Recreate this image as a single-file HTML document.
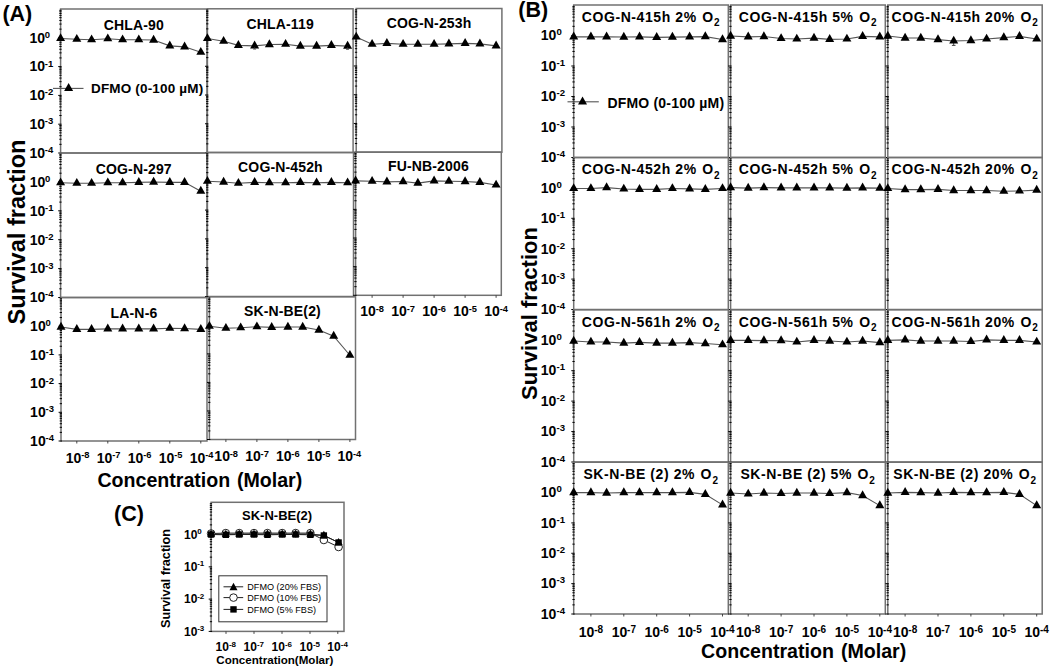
<!DOCTYPE html>
<html><head><meta charset="utf-8"><style>
html,body{margin:0;padding:0;background:#fff;}
body{width:1050px;height:671px;overflow:hidden;}
svg{display:block;}
text{font-family:"Liberation Sans", sans-serif;fill:#000;}
</style></head><body>
<svg width="1050" height="671" viewBox="0 0 1050 671">
<rect width="1050" height="671" fill="#fff"/>
<text x="2.4" y="21" font-size="21.5" font-weight="bold" text-anchor="start">(A)</text>
<rect x="60.6" y="9" width="146.4" height="144" fill="none" stroke="#717171" stroke-width="1.5"/>
<path d="M58.2 153H61.6M59.3 144.33H61.6M59.3 139.26H61.6M59.3 135.66H61.6M59.3 132.87H61.6M59.3 130.59H61.6M59.3 128.66H61.6M59.3 126.99H61.6M59.3 125.52H61.6M58.2 124.2H61.6M59.3 115.53H61.6M59.3 110.46H61.6M59.3 106.86H61.6M59.3 104.07H61.6M59.3 101.79H61.6M59.3 99.86H61.6M59.3 98.19H61.6M59.3 96.72H61.6M58.2 95.4H61.6M59.3 86.73H61.6M59.3 81.66H61.6M59.3 78.06H61.6M59.3 75.27H61.6M59.3 72.99H61.6M59.3 71.06H61.6M59.3 69.39H61.6M59.3 67.92H61.6M58.2 66.6H61.6M59.3 57.93H61.6M59.3 52.86H61.6M59.3 49.26H61.6M59.3 46.47H61.6M59.3 44.19H61.6M59.3 42.26H61.6M59.3 40.59H61.6M59.3 39.12H61.6M58.2 37.8H61.6M59.3 29.13H61.6M59.3 24.06H61.6M59.3 20.46H61.6M59.3 17.67H61.6M59.3 15.39H61.6M59.3 13.46H61.6M59.3 11.79H61.6M59.3 10.32H61.6" stroke="#000" stroke-width="1" fill="none"/>
<text x="133.8" y="29.5" font-size="14" font-weight="bold" text-anchor="middle" letter-spacing="0.15">CHLA-90</text>
<polyline points="60.6,38.45 76.8,39.25 91.59,39.75 107.8,38.75 122.59,39.75 138.8,39.75 153.59,40.05 169.8,45.85 184.59,46.85 200.8,52.25" fill="none" stroke="#555" stroke-width="1.1"/>
<g fill="#000"><path d="M60.6 33.15L65.1 41.05L56.1 41.05Z"/><path d="M76.8 33.95L81.3 41.85L72.3 41.85Z"/><path d="M91.59 34.45L96.09 42.35L87.09 42.35Z"/><path d="M107.8 33.45L112.3 41.35L103.3 41.35Z"/><path d="M122.59 34.45L127.09 42.35L118.09 42.35Z"/><path d="M138.8 34.45L143.3 42.35L134.3 42.35Z"/><path d="M153.59 34.75L158.09 42.65L149.09 42.65Z"/><path d="M169.8 40.55L174.3 48.45L165.3 48.45Z"/><path d="M184.59 41.55L189.09 49.45L180.09 49.45Z"/><path d="M200.8 46.95L205.3 54.85L196.3 54.85Z"/></g>
<rect x="207.4" y="8.8" width="145.7" height="143.7" fill="none" stroke="#717171" stroke-width="1.5"/>
<path d="M205 152.5H208.4M206.1 143.85H208.4M206.1 138.79H208.4M206.1 135.2H208.4M206.1 132.41H208.4M206.1 130.14H208.4M206.1 128.21H208.4M206.1 126.55H208.4M206.1 125.08H208.4M205 123.76H208.4M206.1 115.11H208.4M206.1 110.05H208.4M206.1 106.46H208.4M206.1 103.67H208.4M206.1 101.4H208.4M206.1 99.47H208.4M206.1 97.81H208.4M206.1 96.34H208.4M205 95.02H208.4M206.1 86.37H208.4M206.1 81.31H208.4M206.1 77.72H208.4M206.1 74.93H208.4M206.1 72.66H208.4M206.1 70.73H208.4M206.1 69.07H208.4M206.1 67.6H208.4M205 66.28H208.4M206.1 57.63H208.4M206.1 52.57H208.4M206.1 48.98H208.4M206.1 46.19H208.4M206.1 43.92H208.4M206.1 41.99H208.4M206.1 40.33H208.4M206.1 38.86H208.4M205 37.54H208.4M206.1 28.89H208.4M206.1 23.83H208.4M206.1 20.24H208.4M206.1 17.45H208.4M206.1 15.18H208.4M206.1 13.25H208.4M206.1 11.59H208.4M206.1 10.12H208.4" stroke="#000" stroke-width="1" fill="none"/>
<text x="280.25" y="28.7" font-size="14" font-weight="bold" text-anchor="middle" letter-spacing="0.15">CHLA-119</text>
<polyline points="207.4,38.45 223.6,41.25 238.39,45.35 254.6,45.85 269.39,44.55 285.6,44.25 300.39,46.15 316.6,46.15 331.39,45.35 347.6,46.15" fill="none" stroke="#555" stroke-width="1.1"/>
<g fill="#000"><path d="M207.4 33.15L211.9 41.05L202.9 41.05Z"/><path d="M223.6 35.95L228.1 43.85L219.1 43.85Z"/><path d="M238.39 40.05L242.89 47.95L233.89 47.95Z"/><path d="M254.6 40.55L259.1 48.45L250.1 48.45Z"/><path d="M269.39 39.25L273.89 47.15L264.89 47.15Z"/><path d="M285.6 38.95L290.1 46.85L281.1 46.85Z"/><path d="M300.39 40.85L304.89 48.75L295.89 48.75Z"/><path d="M316.6 40.85L321.1 48.75L312.1 48.75Z"/><path d="M331.39 40.05L335.89 47.95L326.89 47.95Z"/><path d="M347.6 40.85L352.1 48.75L343.1 48.75Z"/></g>
<rect x="356.2" y="8.5" width="145.7" height="143.7" fill="none" stroke="#717171" stroke-width="1.5"/>
<path d="M353.8 152.2H357.2M354.9 143.55H357.2M354.9 138.49H357.2M354.9 134.9H357.2M354.9 132.11H357.2M354.9 129.84H357.2M354.9 127.91H357.2M354.9 126.25H357.2M354.9 124.78H357.2M353.8 123.46H357.2M354.9 114.81H357.2M354.9 109.75H357.2M354.9 106.16H357.2M354.9 103.37H357.2M354.9 101.1H357.2M354.9 99.17H357.2M354.9 97.51H357.2M354.9 96.04H357.2M353.8 94.72H357.2M354.9 86.07H357.2M354.9 81.01H357.2M354.9 77.42H357.2M354.9 74.63H357.2M354.9 72.36H357.2M354.9 70.43H357.2M354.9 68.77H357.2M354.9 67.3H357.2M353.8 65.98H357.2M354.9 57.33H357.2M354.9 52.27H357.2M354.9 48.68H357.2M354.9 45.89H357.2M354.9 43.62H357.2M354.9 41.69H357.2M354.9 40.03H357.2M354.9 38.56H357.2M353.8 37.24H357.2M354.9 28.59H357.2M354.9 23.53H357.2M354.9 19.94H357.2M354.9 17.15H357.2M354.9 14.88H357.2M354.9 12.95H357.2M354.9 11.29H357.2M354.9 9.82H357.2" stroke="#000" stroke-width="1" fill="none"/>
<text x="429.05" y="28.2" font-size="14" font-weight="bold" text-anchor="middle" letter-spacing="0.15">COG-N-253h</text>
<polyline points="356.2,36.95 372.1,44.25 386.89,43.35 403.1,44.25 417.89,44.25 434.1,44.25 448.89,43.85 465.1,43.35 479.89,43.85 496.1,45.85" fill="none" stroke="#555" stroke-width="1.1"/>
<g fill="#000"><path d="M356.2 31.65L360.7 39.55L351.7 39.55Z"/><path d="M372.1 38.95L376.6 46.85L367.6 46.85Z"/><path d="M386.89 38.05L391.39 45.95L382.39 45.95Z"/><path d="M403.1 38.95L407.6 46.85L398.6 46.85Z"/><path d="M417.89 38.95L422.39 46.85L413.39 46.85Z"/><path d="M434.1 38.95L438.6 46.85L429.6 46.85Z"/><path d="M448.89 38.55L453.39 46.45L444.39 46.45Z"/><path d="M465.1 38.05L469.6 45.95L460.6 45.95Z"/><path d="M479.89 38.55L484.39 46.45L475.39 46.45Z"/><path d="M496.1 40.55L500.6 48.45L491.6 48.45Z"/></g>
<rect x="60.6" y="153" width="146.4" height="144.5" fill="none" stroke="#717171" stroke-width="1.5"/>
<path d="M58.2 297.5H61.6M59.3 288.8H61.6M59.3 283.71H61.6M59.3 280.1H61.6M59.3 277.3H61.6M59.3 275.01H61.6M59.3 273.08H61.6M59.3 271.4H61.6M59.3 269.92H61.6M58.2 268.6H61.6M59.3 259.9H61.6M59.3 254.81H61.6M59.3 251.2H61.6M59.3 248.4H61.6M59.3 246.11H61.6M59.3 244.18H61.6M59.3 242.5H61.6M59.3 241.02H61.6M58.2 239.7H61.6M59.3 231H61.6M59.3 225.91H61.6M59.3 222.3H61.6M59.3 219.5H61.6M59.3 217.21H61.6M59.3 215.28H61.6M59.3 213.6H61.6M59.3 212.12H61.6M58.2 210.8H61.6M59.3 202.1H61.6M59.3 197.01H61.6M59.3 193.4H61.6M59.3 190.6H61.6M59.3 188.31H61.6M59.3 186.38H61.6M59.3 184.7H61.6M59.3 183.22H61.6M58.2 181.9H61.6M59.3 173.2H61.6M59.3 168.11H61.6M59.3 164.5H61.6M59.3 161.7H61.6M59.3 159.41H61.6M59.3 157.48H61.6M59.3 155.8H61.6M59.3 154.32H61.6" stroke="#000" stroke-width="1" fill="none"/>
<text x="133.8" y="173.9" font-size="14" font-weight="bold" text-anchor="middle" letter-spacing="0.15">COG-N-297</text>
<polyline points="60.6,182.75 76.8,183.25 91.59,183.25 107.8,182.75 122.59,182.75 138.8,182.35 153.59,182.05 169.8,182.35 184.59,182.35 200.8,191.15" fill="none" stroke="#555" stroke-width="1.1"/>
<g fill="#000"><path d="M60.6 177.45L65.1 185.35L56.1 185.35Z"/><path d="M76.8 177.95L81.3 185.85L72.3 185.85Z"/><path d="M91.59 177.95L96.09 185.85L87.09 185.85Z"/><path d="M107.8 177.45L112.3 185.35L103.3 185.35Z"/><path d="M122.59 177.45L127.09 185.35L118.09 185.35Z"/><path d="M138.8 177.05L143.3 184.95L134.3 184.95Z"/><path d="M153.59 176.75L158.09 184.65L149.09 184.65Z"/><path d="M169.8 177.05L174.3 184.95L165.3 184.95Z"/><path d="M184.59 177.05L189.09 184.95L180.09 184.95Z"/><path d="M200.8 185.85L205.3 193.75L196.3 193.75Z"/></g>
<rect x="207.4" y="152.5" width="146.1" height="144" fill="none" stroke="#717171" stroke-width="1.5"/>
<path d="M205 296.5H208.4M206.1 287.83H208.4M206.1 282.76H208.4M206.1 279.16H208.4M206.1 276.37H208.4M206.1 274.09H208.4M206.1 272.16H208.4M206.1 270.49H208.4M206.1 269.02H208.4M205 267.7H208.4M206.1 259.03H208.4M206.1 253.96H208.4M206.1 250.36H208.4M206.1 247.57H208.4M206.1 245.29H208.4M206.1 243.36H208.4M206.1 241.69H208.4M206.1 240.22H208.4M205 238.9H208.4M206.1 230.23H208.4M206.1 225.16H208.4M206.1 221.56H208.4M206.1 218.77H208.4M206.1 216.49H208.4M206.1 214.56H208.4M206.1 212.89H208.4M206.1 211.42H208.4M205 210.1H208.4M206.1 201.43H208.4M206.1 196.36H208.4M206.1 192.76H208.4M206.1 189.97H208.4M206.1 187.69H208.4M206.1 185.76H208.4M206.1 184.09H208.4M206.1 182.62H208.4M205 181.3H208.4M206.1 172.63H208.4M206.1 167.56H208.4M206.1 163.96H208.4M206.1 161.17H208.4M206.1 158.89H208.4M206.1 156.96H208.4M206.1 155.29H208.4M206.1 153.82H208.4" stroke="#000" stroke-width="1" fill="none"/>
<text x="280.45" y="171.7" font-size="14" font-weight="bold" text-anchor="middle" letter-spacing="0.15">COG-N-452h</text>
<polyline points="207.4,181.25 223.6,182.05 238.39,183.25 254.6,182.35 269.39,182.75 285.6,182.75 300.39,182.35 316.6,182.75 331.39,182.35 347.6,182.75" fill="none" stroke="#555" stroke-width="1.1"/>
<g fill="#000"><path d="M207.4 175.95L211.9 183.85L202.9 183.85Z"/><path d="M223.6 176.75L228.1 184.65L219.1 184.65Z"/><path d="M238.39 177.95L242.89 185.85L233.89 185.85Z"/><path d="M254.6 177.05L259.1 184.95L250.1 184.95Z"/><path d="M269.39 177.45L273.89 185.35L264.89 185.35Z"/><path d="M285.6 177.45L290.1 185.35L281.1 185.35Z"/><path d="M300.39 177.05L304.89 184.95L295.89 184.95Z"/><path d="M316.6 177.45L321.1 185.35L312.1 185.35Z"/><path d="M331.39 177.05L335.89 184.95L326.89 184.95Z"/><path d="M347.6 177.45L352.1 185.35L343.1 185.35Z"/></g>
<rect x="355.6" y="152.1" width="145.7" height="143.2" fill="none" stroke="#717171" stroke-width="1.5"/>
<path d="M353.2 295.3H356.6M354.3 286.68H356.6M354.3 281.64H356.6M354.3 278.06H356.6M354.3 275.28H356.6M354.3 273.01H356.6M354.3 271.1H356.6M354.3 269.44H356.6M354.3 267.97H356.6M353.2 266.66H356.6M354.3 258.04H356.6M354.3 253H356.6M354.3 249.42H356.6M354.3 246.64H356.6M354.3 244.37H356.6M354.3 242.46H356.6M354.3 240.8H356.6M354.3 239.33H356.6M353.2 238.02H356.6M354.3 229.4H356.6M354.3 224.36H356.6M354.3 220.78H356.6M354.3 218H356.6M354.3 215.73H356.6M354.3 213.82H356.6M354.3 212.16H356.6M354.3 210.69H356.6M353.2 209.38H356.6M354.3 200.76H356.6M354.3 195.72H356.6M354.3 192.14H356.6M354.3 189.36H356.6M354.3 187.09H356.6M354.3 185.18H356.6M354.3 183.52H356.6M354.3 182.05H356.6M353.2 180.74H356.6M354.3 172.12H356.6M354.3 167.08H356.6M354.3 163.5H356.6M354.3 160.72H356.6M354.3 158.45H356.6M354.3 156.54H356.6M354.3 154.88H356.6M354.3 153.41H356.6" stroke="#000" stroke-width="1" fill="none"/>
<path d="M372.1 295.3V297.8M403.1 295.3V297.8M434.1 295.3V297.8M465.1 295.3V297.8M496.1 295.3V297.8" stroke="#333" stroke-width="0.9" fill="none"/>
<text x="428.45" y="171.4" font-size="14" font-weight="bold" text-anchor="middle" letter-spacing="0.15">FU-NB-2006</text>
<polyline points="355.6,180.85 372.1,181.25 386.89,181.85 403.1,181.55 417.89,183.15 434.1,180.85 448.89,181.25 465.1,181.55 479.89,182.35 496.1,184.95" fill="none" stroke="#555" stroke-width="1.1"/>
<g fill="#000"><path d="M355.6 175.55L360.1 183.45L351.1 183.45Z"/><path d="M372.1 175.95L376.6 183.85L367.6 183.85Z"/><path d="M386.89 176.55L391.39 184.45L382.39 184.45Z"/><path d="M403.1 176.25L407.6 184.15L398.6 184.15Z"/><path d="M417.89 177.85L422.39 185.75L413.39 185.75Z"/><path d="M434.1 175.55L438.6 183.45L429.6 183.45Z"/><path d="M448.89 175.95L453.39 183.85L444.39 183.85Z"/><path d="M465.1 176.25L469.6 184.15L460.6 184.15Z"/><path d="M479.89 177.05L484.39 184.95L475.39 184.95Z"/><path d="M496.1 179.65L500.6 187.55L491.6 187.55Z"/></g>
<rect x="61" y="297.5" width="146" height="143.5" fill="none" stroke="#717171" stroke-width="1.5"/>
<path d="M58.6 441H62M59.7 432.36H62M59.7 427.31H62M59.7 423.72H62M59.7 420.94H62M59.7 418.67H62M59.7 416.75H62M59.7 415.08H62M59.7 413.61H62M58.6 412.3H62M59.7 403.66H62M59.7 398.61H62M59.7 395.02H62M59.7 392.24H62M59.7 389.97H62M59.7 388.05H62M59.7 386.38H62M59.7 384.91H62M58.6 383.6H62M59.7 374.96H62M59.7 369.91H62M59.7 366.32H62M59.7 363.54H62M59.7 361.27H62M59.7 359.35H62M59.7 357.68H62M59.7 356.21H62M58.6 354.9H62M59.7 346.26H62M59.7 341.21H62M59.7 337.62H62M59.7 334.84H62M59.7 332.57H62M59.7 330.65H62M59.7 328.98H62M59.7 327.51H62M58.6 326.2H62M59.7 317.56H62M59.7 312.51H62M59.7 308.92H62M59.7 306.14H62M59.7 303.87H62M59.7 301.95H62M59.7 300.28H62M59.7 298.81H62" stroke="#000" stroke-width="1" fill="none"/>
<path d="M76.8 441V443.5M107.8 441V443.5M138.8 441V443.5M169.8 441V443.5M200.8 441V443.5" stroke="#333" stroke-width="0.9" fill="none"/>
<text x="134" y="318.3" font-size="14" font-weight="bold" text-anchor="middle" letter-spacing="0.15">LA-N-6</text>
<polyline points="61,327.05 76.8,329.35 91.59,329.35 107.8,328.85 122.59,328.85 138.8,328.85 153.59,328.85 169.8,328.25 184.59,328.55 200.8,329.35" fill="none" stroke="#555" stroke-width="1.1"/>
<g fill="#000"><path d="M61 321.75L65.5 329.65L56.5 329.65Z"/><path d="M76.8 324.05L81.3 331.95L72.3 331.95Z"/><path d="M91.59 324.05L96.09 331.95L87.09 331.95Z"/><path d="M107.8 323.55L112.3 331.45L103.3 331.45Z"/><path d="M122.59 323.55L127.09 331.45L118.09 331.45Z"/><path d="M138.8 323.55L143.3 331.45L134.3 331.45Z"/><path d="M153.59 323.55L158.09 331.45L149.09 331.45Z"/><path d="M169.8 322.95L174.3 330.85L165.3 330.85Z"/><path d="M184.59 323.25L189.09 331.15L180.09 331.15Z"/><path d="M200.8 324.05L205.3 331.95L196.3 331.95Z"/></g>
<rect x="209.4" y="296.8" width="146.1" height="142.7" fill="none" stroke="#717171" stroke-width="1.5"/>
<path d="M207 439.5H210.4M208.1 430.91H210.4M208.1 425.88H210.4M208.1 422.32H210.4M208.1 419.55H210.4M208.1 417.29H210.4M208.1 415.38H210.4M208.1 413.73H210.4M208.1 412.27H210.4M207 410.96H210.4M208.1 402.37H210.4M208.1 397.34H210.4M208.1 393.78H210.4M208.1 391.01H210.4M208.1 388.75H210.4M208.1 386.84H210.4M208.1 385.19H210.4M208.1 383.73H210.4M207 382.42H210.4M208.1 373.83H210.4M208.1 368.8H210.4M208.1 365.24H210.4M208.1 362.47H210.4M208.1 360.21H210.4M208.1 358.3H210.4M208.1 356.65H210.4M208.1 355.19H210.4M207 353.88H210.4M208.1 345.29H210.4M208.1 340.26H210.4M208.1 336.7H210.4M208.1 333.93H210.4M208.1 331.67H210.4M208.1 329.76H210.4M208.1 328.11H210.4M208.1 326.65H210.4M207 325.34H210.4M208.1 316.75H210.4M208.1 311.72H210.4M208.1 308.16H210.4M208.1 305.39H210.4M208.1 303.13H210.4M208.1 301.22H210.4M208.1 299.57H210.4M208.1 298.11H210.4" stroke="#000" stroke-width="1" fill="none"/>
<path d="M225.9 439.5V442M256.9 439.5V442M287.9 439.5V442M318.9 439.5V442M349.9 439.5V442" stroke="#333" stroke-width="0.9" fill="none"/>
<text x="282.45" y="316.3" font-size="14" font-weight="bold" text-anchor="middle" letter-spacing="0.15">SK-N-BE(2)</text>
<polyline points="209.4,326.25 225.9,328.25 240.69,327.75 256.9,326.75 271.69,327.35 287.9,327.05 302.69,327.05 318.9,330.05 333.69,336.15 349.9,355.25" fill="none" stroke="#555" stroke-width="1.1"/>
<g fill="#000"><path d="M209.4 320.95L213.9 328.85L204.9 328.85Z"/><path d="M225.9 322.95L230.4 330.85L221.4 330.85Z"/><path d="M240.69 322.45L245.19 330.35L236.19 330.35Z"/><path d="M256.9 321.45L261.4 329.35L252.4 329.35Z"/><path d="M271.69 322.05L276.19 329.95L267.19 329.95Z"/><path d="M287.9 321.75L292.4 329.65L283.4 329.65Z"/><path d="M302.69 321.75L307.19 329.65L298.19 329.65Z"/><path d="M318.9 324.75L323.4 332.65L314.4 332.65Z"/><path d="M333.69 330.85L338.19 338.75L329.19 338.75Z"/><path d="M349.9 349.95L354.4 357.85L345.4 357.85Z"/></g>
<path d="M254.6 47.5V49M253.1 49H256.1" stroke="#444" stroke-width="1" fill="none"/>
<path d="M347.5 47.5V49.2M346 49.2H349" stroke="#444" stroke-width="1" fill="none"/>
<path d="M953.7 42.8V45.4M951.9 45.4H955.5" stroke="#444" stroke-width="1" fill="none"/>
<text x="29.4" y="42.6" font-size="14" font-weight="bold" text-anchor="start">10</text>
<text x="44.8" y="37.7" font-size="9.5" font-weight="bold" text-anchor="start">0</text>
<text x="29.4" y="71.4" font-size="14" font-weight="bold" text-anchor="start">10</text>
<text x="44.8" y="66.5" font-size="9.5" font-weight="bold" text-anchor="start">-1</text>
<text x="29.4" y="100.2" font-size="14" font-weight="bold" text-anchor="start">10</text>
<text x="44.8" y="95.3" font-size="9.5" font-weight="bold" text-anchor="start">-2</text>
<text x="29.4" y="129" font-size="14" font-weight="bold" text-anchor="start">10</text>
<text x="44.8" y="124.1" font-size="9.5" font-weight="bold" text-anchor="start">-3</text>
<text x="29.4" y="157.8" font-size="14" font-weight="bold" text-anchor="start">10</text>
<text x="44.8" y="152.9" font-size="9.5" font-weight="bold" text-anchor="start">-4</text>
<text x="29.7" y="186.7" font-size="14" font-weight="bold" text-anchor="start">10</text>
<text x="45.1" y="181.8" font-size="9.5" font-weight="bold" text-anchor="start">0</text>
<text x="29.7" y="215.6" font-size="14" font-weight="bold" text-anchor="start">10</text>
<text x="45.1" y="210.7" font-size="9.5" font-weight="bold" text-anchor="start">-1</text>
<text x="29.7" y="244.5" font-size="14" font-weight="bold" text-anchor="start">10</text>
<text x="45.1" y="239.6" font-size="9.5" font-weight="bold" text-anchor="start">-2</text>
<text x="29.7" y="273.4" font-size="14" font-weight="bold" text-anchor="start">10</text>
<text x="45.1" y="268.5" font-size="9.5" font-weight="bold" text-anchor="start">-3</text>
<text x="29.7" y="302.3" font-size="14" font-weight="bold" text-anchor="start">10</text>
<text x="45.1" y="297.4" font-size="9.5" font-weight="bold" text-anchor="start">-4</text>
<text x="30.1" y="331" font-size="14" font-weight="bold" text-anchor="start">10</text>
<text x="45.5" y="326.1" font-size="9.5" font-weight="bold" text-anchor="start">0</text>
<text x="30.1" y="359.7" font-size="14" font-weight="bold" text-anchor="start">10</text>
<text x="45.5" y="354.8" font-size="9.5" font-weight="bold" text-anchor="start">-1</text>
<text x="30.1" y="388.4" font-size="14" font-weight="bold" text-anchor="start">10</text>
<text x="45.5" y="383.5" font-size="9.5" font-weight="bold" text-anchor="start">-2</text>
<text x="30.1" y="417.1" font-size="14" font-weight="bold" text-anchor="start">10</text>
<text x="45.5" y="412.2" font-size="9.5" font-weight="bold" text-anchor="start">-3</text>
<text x="30.1" y="445.8" font-size="14" font-weight="bold" text-anchor="start">10</text>
<text x="45.5" y="440.9" font-size="9.5" font-weight="bold" text-anchor="start">-4</text>
<text x="65.77" y="462.9" font-size="14" font-weight="bold" text-anchor="start">10</text>
<text x="81.17" y="458.3" font-size="9.3" font-weight="bold" text-anchor="start">-8</text>
<text x="96.77" y="462.9" font-size="14" font-weight="bold" text-anchor="start">10</text>
<text x="112.17" y="458.3" font-size="9.3" font-weight="bold" text-anchor="start">-7</text>
<text x="127.77" y="462.9" font-size="14" font-weight="bold" text-anchor="start">10</text>
<text x="143.17" y="458.3" font-size="9.3" font-weight="bold" text-anchor="start">-6</text>
<text x="158.77" y="462.9" font-size="14" font-weight="bold" text-anchor="start">10</text>
<text x="174.17" y="458.3" font-size="9.3" font-weight="bold" text-anchor="start">-5</text>
<text x="189.77" y="462.9" font-size="14" font-weight="bold" text-anchor="start">10</text>
<text x="205.17" y="458.3" font-size="9.3" font-weight="bold" text-anchor="start">-4</text>
<text x="214.37" y="461.4" font-size="14" font-weight="bold" text-anchor="start">10</text>
<text x="229.77" y="456.8" font-size="9.3" font-weight="bold" text-anchor="start">-8</text>
<text x="245.17" y="461.4" font-size="14" font-weight="bold" text-anchor="start">10</text>
<text x="260.57" y="456.8" font-size="9.3" font-weight="bold" text-anchor="start">-7</text>
<text x="275.97" y="461.4" font-size="14" font-weight="bold" text-anchor="start">10</text>
<text x="291.37" y="456.8" font-size="9.3" font-weight="bold" text-anchor="start">-6</text>
<text x="306.77" y="461.4" font-size="14" font-weight="bold" text-anchor="start">10</text>
<text x="322.17" y="456.8" font-size="9.3" font-weight="bold" text-anchor="start">-5</text>
<text x="337.57" y="461.4" font-size="14" font-weight="bold" text-anchor="start">10</text>
<text x="352.97" y="456.8" font-size="9.3" font-weight="bold" text-anchor="start">-4</text>
<text x="360.27" y="316.4" font-size="14" font-weight="bold" text-anchor="start">10</text>
<text x="375.67" y="311.8" font-size="9.3" font-weight="bold" text-anchor="start">-8</text>
<text x="391.27" y="316.4" font-size="14" font-weight="bold" text-anchor="start">10</text>
<text x="406.67" y="311.8" font-size="9.3" font-weight="bold" text-anchor="start">-7</text>
<text x="422.27" y="316.4" font-size="14" font-weight="bold" text-anchor="start">10</text>
<text x="437.67" y="311.8" font-size="9.3" font-weight="bold" text-anchor="start">-6</text>
<text x="453.27" y="316.4" font-size="14" font-weight="bold" text-anchor="start">10</text>
<text x="468.67" y="311.8" font-size="9.3" font-weight="bold" text-anchor="start">-5</text>
<text x="484.27" y="316.4" font-size="14" font-weight="bold" text-anchor="start">10</text>
<text x="499.67" y="311.8" font-size="9.3" font-weight="bold" text-anchor="start">-4</text>
<path d="M53 88.4H83.5" stroke="#555" stroke-width="1.1"/>
<g fill="#000"><path d="M68.6 83.1L73.1 91L64.1 91Z"/></g>
<text x="91" y="93.3" font-size="13.5" font-weight="bold" text-anchor="start" letter-spacing="0.17">DFMO (0-100 µM)</text>
<text x="0" y="0" font-size="23.6" font-weight="bold" text-anchor="start" transform="translate(24.6,324.4) rotate(-90)">Survival fraction</text>
<text x="97.4" y="487.1" font-size="19.6" font-weight="bold" text-anchor="start">Concentration</text>
<text x="236.9" y="487.1" font-size="19.6" font-weight="bold" text-anchor="start">(Molar)</text>
<text x="518.3" y="17" font-size="21.5" font-weight="bold" text-anchor="start">(B)</text>
<rect x="573.7" y="5" width="154.6" height="152.5" fill="none" stroke="#717171" stroke-width="1.5"/>
<path d="M571.3 157.5H574.7M572.4 148.32H574.7M572.4 142.95H574.7M572.4 139.14H574.7M572.4 136.18H574.7M572.4 133.77H574.7M572.4 131.72H574.7M572.4 129.96H574.7M572.4 128.4H574.7M571.3 127H574.7M572.4 117.82H574.7M572.4 112.45H574.7M572.4 108.64H574.7M572.4 105.68H574.7M572.4 103.27H574.7M572.4 101.22H574.7M572.4 99.46H574.7M572.4 97.9H574.7M571.3 96.5H574.7M572.4 87.32H574.7M572.4 81.95H574.7M572.4 78.14H574.7M572.4 75.18H574.7M572.4 72.77H574.7M572.4 70.72H574.7M572.4 68.96H574.7M572.4 67.4H574.7M571.3 66H574.7M572.4 56.82H574.7M572.4 51.45H574.7M572.4 47.64H574.7M572.4 44.68H574.7M572.4 42.27H574.7M572.4 40.22H574.7M572.4 38.46H574.7M572.4 36.9H574.7M571.3 35.5H574.7M572.4 26.32H574.7M572.4 20.95H574.7M572.4 17.14H574.7M572.4 14.18H574.7M572.4 11.77H574.7M572.4 9.72H574.7M572.4 7.96H574.7M572.4 6.4H574.7" stroke="#000" stroke-width="1" fill="none"/>
<polyline points="573.7,36.85 590.9,36.85 606.6,36.85 623.8,37.05 639.5,36.85 656.7,37.35 672.4,37.15 689.6,36.85 705.3,36.65 722.5,39.55" fill="none" stroke="#555" stroke-width="1.1"/>
<g fill="#000"><path d="M573.7 31.55L578.2 39.45L569.2 39.45Z"/><path d="M590.9 31.55L595.4 39.45L586.4 39.45Z"/><path d="M606.6 31.55L611.1 39.45L602.1 39.45Z"/><path d="M623.8 31.75L628.3 39.65L619.3 39.65Z"/><path d="M639.5 31.55L644 39.45L635 39.45Z"/><path d="M656.7 32.05L661.2 39.95L652.2 39.95Z"/><path d="M672.4 31.85L676.9 39.75L667.9 39.75Z"/><path d="M689.6 31.55L694.1 39.45L685.1 39.45Z"/><path d="M705.3 31.35L709.8 39.25L700.8 39.25Z"/><path d="M722.5 34.25L727 42.15L718 42.15Z"/></g>
<text x="651" y="21.5" font-size="14" font-weight="bold" text-anchor="middle" letter-spacing="0.58">COG-N-415h 2%<tspan dx="1.1">&#160;O</tspan><tspan font-size="10" dy="4.6" dx="0.3">2</tspan></text>
<rect x="730.6" y="5" width="154.7" height="152.5" fill="none" stroke="#717171" stroke-width="1.5"/>
<path d="M728.2 157.5H731.6M729.3 148.32H731.6M729.3 142.95H731.6M729.3 139.14H731.6M729.3 136.18H731.6M729.3 133.77H731.6M729.3 131.72H731.6M729.3 129.96H731.6M729.3 128.4H731.6M728.2 127H731.6M729.3 117.82H731.6M729.3 112.45H731.6M729.3 108.64H731.6M729.3 105.68H731.6M729.3 103.27H731.6M729.3 101.22H731.6M729.3 99.46H731.6M729.3 97.9H731.6M728.2 96.5H731.6M729.3 87.32H731.6M729.3 81.95H731.6M729.3 78.14H731.6M729.3 75.18H731.6M729.3 72.77H731.6M729.3 70.72H731.6M729.3 68.96H731.6M729.3 67.4H731.6M728.2 66H731.6M729.3 56.82H731.6M729.3 51.45H731.6M729.3 47.64H731.6M729.3 44.68H731.6M729.3 42.27H731.6M729.3 40.22H731.6M729.3 38.46H731.6M729.3 36.9H731.6M728.2 35.5H731.6M729.3 26.32H731.6M729.3 20.95H731.6M729.3 17.14H731.6M729.3 14.18H731.6M729.3 11.77H731.6M729.3 9.72H731.6M729.3 7.96H731.6M729.3 6.4H731.6" stroke="#000" stroke-width="1" fill="none"/>
<polyline points="730.6,36.05 748.2,36.85 763.9,36.55 781.1,38.45 796.8,38.95 814,38.15 829.7,39.35 846.9,38.95 862.6,36.35 879.8,36.85" fill="none" stroke="#555" stroke-width="1.1"/>
<g fill="#000"><path d="M730.6 30.75L735.1 38.65L726.1 38.65Z"/><path d="M748.2 31.55L752.7 39.45L743.7 39.45Z"/><path d="M763.9 31.25L768.4 39.15L759.4 39.15Z"/><path d="M781.1 33.15L785.6 41.05L776.6 41.05Z"/><path d="M796.8 33.65L801.3 41.55L792.3 41.55Z"/><path d="M814 32.85L818.5 40.75L809.5 40.75Z"/><path d="M829.7 34.05L834.2 41.95L825.2 41.95Z"/><path d="M846.9 33.65L851.4 41.55L842.4 41.55Z"/><path d="M862.6 31.05L867.1 38.95L858.1 38.95Z"/><path d="M879.8 31.55L884.3 39.45L875.3 39.45Z"/></g>
<text x="807.95" y="21.5" font-size="14" font-weight="bold" text-anchor="middle" letter-spacing="0.58">COG-N-415h 5%<tspan dx="1.1">&#160;O</tspan><tspan font-size="10" dy="4.6" dx="0.3">2</tspan></text>
<rect x="887.8" y="5" width="154.4" height="152.5" fill="none" stroke="#717171" stroke-width="1.5"/>
<path d="M885.4 157.5H888.8M886.5 148.32H888.8M886.5 142.95H888.8M886.5 139.14H888.8M886.5 136.18H888.8M886.5 133.77H888.8M886.5 131.72H888.8M886.5 129.96H888.8M886.5 128.4H888.8M885.4 127H888.8M886.5 117.82H888.8M886.5 112.45H888.8M886.5 108.64H888.8M886.5 105.68H888.8M886.5 103.27H888.8M886.5 101.22H888.8M886.5 99.46H888.8M886.5 97.9H888.8M885.4 96.5H888.8M886.5 87.32H888.8M886.5 81.95H888.8M886.5 78.14H888.8M886.5 75.18H888.8M886.5 72.77H888.8M886.5 70.72H888.8M886.5 68.96H888.8M886.5 67.4H888.8M885.4 66H888.8M886.5 56.82H888.8M886.5 51.45H888.8M886.5 47.64H888.8M886.5 44.68H888.8M886.5 42.27H888.8M886.5 40.22H888.8M886.5 38.46H888.8M886.5 36.9H888.8M885.4 35.5H888.8M886.5 26.32H888.8M886.5 20.95H888.8M886.5 17.14H888.8M886.5 14.18H888.8M886.5 11.77H888.8M886.5 9.72H888.8M886.5 7.96H888.8M886.5 6.4H888.8" stroke="#000" stroke-width="1" fill="none"/>
<polyline points="887.8,36.05 905.1,38.05 920.8,38.05 938,39.65 953.7,40.95 970.9,40.55 986.6,38.95 1003.8,37.65 1019.5,36.35 1036.7,38.95" fill="none" stroke="#555" stroke-width="1.1"/>
<g fill="#000"><path d="M887.8 30.75L892.3 38.65L883.3 38.65Z"/><path d="M905.1 32.75L909.6 40.65L900.6 40.65Z"/><path d="M920.8 32.75L925.3 40.65L916.3 40.65Z"/><path d="M938 34.35L942.5 42.25L933.5 42.25Z"/><path d="M953.7 35.65L958.2 43.55L949.2 43.55Z"/><path d="M970.9 35.25L975.4 43.15L966.4 43.15Z"/><path d="M986.6 33.65L991.1 41.55L982.1 41.55Z"/><path d="M1003.8 32.35L1008.3 40.25L999.3 40.25Z"/><path d="M1019.5 31.05L1024 38.95L1015 38.95Z"/><path d="M1036.7 33.65L1041.2 41.55L1032.2 41.55Z"/></g>
<text x="965" y="21.5" font-size="14" font-weight="bold" text-anchor="middle" letter-spacing="0.58">COG-N-415h 20%<tspan dx="1.1">&#160;O</tspan><tspan font-size="10" dy="4.6" dx="0.3">2</tspan></text>
<rect x="573.7" y="157.5" width="154.6" height="152" fill="none" stroke="#717171" stroke-width="1.5"/>
<path d="M571.3 309.5H574.7M572.4 300.35H574.7M572.4 295H574.7M572.4 291.2H574.7M572.4 288.25H574.7M572.4 285.84H574.7M572.4 283.81H574.7M572.4 282.05H574.7M572.4 280.49H574.7M571.3 279.1H574.7M572.4 269.95H574.7M572.4 264.6H574.7M572.4 260.8H574.7M572.4 257.85H574.7M572.4 255.44H574.7M572.4 253.41H574.7M572.4 251.65H574.7M572.4 250.09H574.7M571.3 248.7H574.7M572.4 239.55H574.7M572.4 234.2H574.7M572.4 230.4H574.7M572.4 227.45H574.7M572.4 225.04H574.7M572.4 223.01H574.7M572.4 221.25H574.7M572.4 219.69H574.7M571.3 218.3H574.7M572.4 209.15H574.7M572.4 203.8H574.7M572.4 200H574.7M572.4 197.05H574.7M572.4 194.64H574.7M572.4 192.61H574.7M572.4 190.85H574.7M572.4 189.29H574.7M571.3 187.9H574.7M572.4 178.75H574.7M572.4 173.4H574.7M572.4 169.6H574.7M572.4 166.65H574.7M572.4 164.24H574.7M572.4 162.21H574.7M572.4 160.45H574.7M572.4 158.89H574.7" stroke="#000" stroke-width="1" fill="none"/>
<polyline points="573.7,188.45 590.9,188.45 606.6,187.65 623.8,188.95 639.5,189.35 656.7,189.35 672.4,188.45 689.6,188.85 705.3,189.35 722.5,188.45" fill="none" stroke="#555" stroke-width="1.1"/>
<g fill="#000"><path d="M573.7 183.15L578.2 191.05L569.2 191.05Z"/><path d="M590.9 183.15L595.4 191.05L586.4 191.05Z"/><path d="M606.6 182.35L611.1 190.25L602.1 190.25Z"/><path d="M623.8 183.65L628.3 191.55L619.3 191.55Z"/><path d="M639.5 184.05L644 191.95L635 191.95Z"/><path d="M656.7 184.05L661.2 191.95L652.2 191.95Z"/><path d="M672.4 183.15L676.9 191.05L667.9 191.05Z"/><path d="M689.6 183.55L694.1 191.45L685.1 191.45Z"/><path d="M705.3 184.05L709.8 191.95L700.8 191.95Z"/><path d="M722.5 183.15L727 191.05L718 191.05Z"/></g>
<text x="651" y="174.2" font-size="14" font-weight="bold" text-anchor="middle" letter-spacing="0.58">COG-N-452h 2%<tspan dx="1.1">&#160;O</tspan><tspan font-size="10" dy="4.6" dx="0.3">2</tspan></text>
<rect x="730.6" y="157.5" width="154.7" height="152" fill="none" stroke="#717171" stroke-width="1.5"/>
<path d="M728.2 309.5H731.6M729.3 300.35H731.6M729.3 295H731.6M729.3 291.2H731.6M729.3 288.25H731.6M729.3 285.84H731.6M729.3 283.81H731.6M729.3 282.05H731.6M729.3 280.49H731.6M728.2 279.1H731.6M729.3 269.95H731.6M729.3 264.6H731.6M729.3 260.8H731.6M729.3 257.85H731.6M729.3 255.44H731.6M729.3 253.41H731.6M729.3 251.65H731.6M729.3 250.09H731.6M728.2 248.7H731.6M729.3 239.55H731.6M729.3 234.2H731.6M729.3 230.4H731.6M729.3 227.45H731.6M729.3 225.04H731.6M729.3 223.01H731.6M729.3 221.25H731.6M729.3 219.69H731.6M728.2 218.3H731.6M729.3 209.15H731.6M729.3 203.8H731.6M729.3 200H731.6M729.3 197.05H731.6M729.3 194.64H731.6M729.3 192.61H731.6M729.3 190.85H731.6M729.3 189.29H731.6M728.2 187.9H731.6M729.3 178.75H731.6M729.3 173.4H731.6M729.3 169.6H731.6M729.3 166.65H731.6M729.3 164.24H731.6M729.3 162.21H731.6M729.3 160.45H731.6M729.3 158.89H731.6" stroke="#000" stroke-width="1" fill="none"/>
<polyline points="730.6,187.65 748.2,188.15 763.9,187.65 781.1,187.85 796.8,187.85 814,187.85 829.7,187.85 846.9,188.15 862.6,187.85 879.8,188.15" fill="none" stroke="#555" stroke-width="1.1"/>
<g fill="#000"><path d="M730.6 182.35L735.1 190.25L726.1 190.25Z"/><path d="M748.2 182.85L752.7 190.75L743.7 190.75Z"/><path d="M763.9 182.35L768.4 190.25L759.4 190.25Z"/><path d="M781.1 182.55L785.6 190.45L776.6 190.45Z"/><path d="M796.8 182.55L801.3 190.45L792.3 190.45Z"/><path d="M814 182.55L818.5 190.45L809.5 190.45Z"/><path d="M829.7 182.55L834.2 190.45L825.2 190.45Z"/><path d="M846.9 182.85L851.4 190.75L842.4 190.75Z"/><path d="M862.6 182.55L867.1 190.45L858.1 190.45Z"/><path d="M879.8 182.85L884.3 190.75L875.3 190.75Z"/></g>
<text x="807.95" y="174.2" font-size="14" font-weight="bold" text-anchor="middle" letter-spacing="0.58">COG-N-452h 5%<tspan dx="1.1">&#160;O</tspan><tspan font-size="10" dy="4.6" dx="0.3">2</tspan></text>
<rect x="887.8" y="157.5" width="154.4" height="152" fill="none" stroke="#717171" stroke-width="1.5"/>
<path d="M885.4 309.5H888.8M886.5 300.35H888.8M886.5 295H888.8M886.5 291.2H888.8M886.5 288.25H888.8M886.5 285.84H888.8M886.5 283.81H888.8M886.5 282.05H888.8M886.5 280.49H888.8M885.4 279.1H888.8M886.5 269.95H888.8M886.5 264.6H888.8M886.5 260.8H888.8M886.5 257.85H888.8M886.5 255.44H888.8M886.5 253.41H888.8M886.5 251.65H888.8M886.5 250.09H888.8M885.4 248.7H888.8M886.5 239.55H888.8M886.5 234.2H888.8M886.5 230.4H888.8M886.5 227.45H888.8M886.5 225.04H888.8M886.5 223.01H888.8M886.5 221.25H888.8M886.5 219.69H888.8M885.4 218.3H888.8M886.5 209.15H888.8M886.5 203.8H888.8M886.5 200H888.8M886.5 197.05H888.8M886.5 194.64H888.8M886.5 192.61H888.8M886.5 190.85H888.8M886.5 189.29H888.8M885.4 187.9H888.8M886.5 178.75H888.8M886.5 173.4H888.8M886.5 169.6H888.8M886.5 166.65H888.8M886.5 164.24H888.8M886.5 162.21H888.8M886.5 160.45H888.8M886.5 158.89H888.8" stroke="#000" stroke-width="1" fill="none"/>
<polyline points="887.8,188.45 905.1,189.65 920.8,189.65 938,189.35 953.7,190.55 970.9,190.55 986.6,190.55 1003.8,191.25 1019.5,190.95 1036.7,190.15" fill="none" stroke="#555" stroke-width="1.1"/>
<g fill="#000"><path d="M887.8 183.15L892.3 191.05L883.3 191.05Z"/><path d="M905.1 184.35L909.6 192.25L900.6 192.25Z"/><path d="M920.8 184.35L925.3 192.25L916.3 192.25Z"/><path d="M938 184.05L942.5 191.95L933.5 191.95Z"/><path d="M953.7 185.25L958.2 193.15L949.2 193.15Z"/><path d="M970.9 185.25L975.4 193.15L966.4 193.15Z"/><path d="M986.6 185.25L991.1 193.15L982.1 193.15Z"/><path d="M1003.8 185.95L1008.3 193.85L999.3 193.85Z"/><path d="M1019.5 185.65L1024 193.55L1015 193.55Z"/><path d="M1036.7 184.85L1041.2 192.75L1032.2 192.75Z"/></g>
<text x="965" y="174.2" font-size="14" font-weight="bold" text-anchor="middle" letter-spacing="0.58">COG-N-452h 20%<tspan dx="1.1">&#160;O</tspan><tspan font-size="10" dy="4.6" dx="0.3">2</tspan></text>
<rect x="573.7" y="309.8" width="154.6" height="152.2" fill="none" stroke="#717171" stroke-width="1.5"/>
<path d="M571.3 462H574.7M572.4 452.84H574.7M572.4 447.48H574.7M572.4 443.67H574.7M572.4 440.72H574.7M572.4 438.31H574.7M572.4 436.28H574.7M572.4 434.51H574.7M572.4 432.95H574.7M571.3 431.56H574.7M572.4 422.4H574.7M572.4 417.04H574.7M572.4 413.23H574.7M572.4 410.28H574.7M572.4 407.87H574.7M572.4 405.84H574.7M572.4 404.07H574.7M572.4 402.51H574.7M571.3 401.12H574.7M572.4 391.96H574.7M572.4 386.6H574.7M572.4 382.79H574.7M572.4 379.84H574.7M572.4 377.43H574.7M572.4 375.4H574.7M572.4 373.63H574.7M572.4 372.07H574.7M571.3 370.68H574.7M572.4 361.52H574.7M572.4 356.16H574.7M572.4 352.35H574.7M572.4 349.4H574.7M572.4 346.99H574.7M572.4 344.96H574.7M572.4 343.19H574.7M572.4 341.63H574.7M571.3 340.24H574.7M572.4 331.08H574.7M572.4 325.72H574.7M572.4 321.91H574.7M572.4 318.96H574.7M572.4 316.55H574.7M572.4 314.52H574.7M572.4 312.75H574.7M572.4 311.19H574.7" stroke="#000" stroke-width="1" fill="none"/>
<polyline points="573.7,341.05 590.9,341.95 606.6,341.95 623.8,343.15 639.5,342.35 656.7,343.15 672.4,343.15 689.6,342.65 705.3,343.55 722.5,344.75" fill="none" stroke="#555" stroke-width="1.1"/>
<g fill="#000"><path d="M573.7 335.75L578.2 343.65L569.2 343.65Z"/><path d="M590.9 336.65L595.4 344.55L586.4 344.55Z"/><path d="M606.6 336.65L611.1 344.55L602.1 344.55Z"/><path d="M623.8 337.85L628.3 345.75L619.3 345.75Z"/><path d="M639.5 337.05L644 344.95L635 344.95Z"/><path d="M656.7 337.85L661.2 345.75L652.2 345.75Z"/><path d="M672.4 337.85L676.9 345.75L667.9 345.75Z"/><path d="M689.6 337.35L694.1 345.25L685.1 345.25Z"/><path d="M705.3 338.25L709.8 346.15L700.8 346.15Z"/><path d="M722.5 339.45L727 347.35L718 347.35Z"/></g>
<text x="651" y="326.5" font-size="14" font-weight="bold" text-anchor="middle" letter-spacing="0.58">COG-N-561h 2%<tspan dx="1.1">&#160;O</tspan><tspan font-size="10" dy="4.6" dx="0.3">2</tspan></text>
<rect x="730.6" y="309.8" width="154.7" height="152.2" fill="none" stroke="#717171" stroke-width="1.5"/>
<path d="M728.2 462H731.6M729.3 452.84H731.6M729.3 447.48H731.6M729.3 443.67H731.6M729.3 440.72H731.6M729.3 438.31H731.6M729.3 436.28H731.6M729.3 434.51H731.6M729.3 432.95H731.6M728.2 431.56H731.6M729.3 422.4H731.6M729.3 417.04H731.6M729.3 413.23H731.6M729.3 410.28H731.6M729.3 407.87H731.6M729.3 405.84H731.6M729.3 404.07H731.6M729.3 402.51H731.6M728.2 401.12H731.6M729.3 391.96H731.6M729.3 386.6H731.6M729.3 382.79H731.6M729.3 379.84H731.6M729.3 377.43H731.6M729.3 375.4H731.6M729.3 373.63H731.6M729.3 372.07H731.6M728.2 370.68H731.6M729.3 361.52H731.6M729.3 356.16H731.6M729.3 352.35H731.6M729.3 349.4H731.6M729.3 346.99H731.6M729.3 344.96H731.6M729.3 343.19H731.6M729.3 341.63H731.6M728.2 340.24H731.6M729.3 331.08H731.6M729.3 325.72H731.6M729.3 321.91H731.6M729.3 318.96H731.6M729.3 316.55H731.6M729.3 314.52H731.6M729.3 312.75H731.6M729.3 311.19H731.6" stroke="#000" stroke-width="1" fill="none"/>
<polyline points="730.6,340.35 748.2,340.35 763.9,340.65 781.1,340.65 796.8,341.95 814,340.35 829.7,341.05 846.9,341.95 862.6,341.05 879.8,342.65" fill="none" stroke="#555" stroke-width="1.1"/>
<g fill="#000"><path d="M730.6 335.05L735.1 342.95L726.1 342.95Z"/><path d="M748.2 335.05L752.7 342.95L743.7 342.95Z"/><path d="M763.9 335.35L768.4 343.25L759.4 343.25Z"/><path d="M781.1 335.35L785.6 343.25L776.6 343.25Z"/><path d="M796.8 336.65L801.3 344.55L792.3 344.55Z"/><path d="M814 335.05L818.5 342.95L809.5 342.95Z"/><path d="M829.7 335.75L834.2 343.65L825.2 343.65Z"/><path d="M846.9 336.65L851.4 344.55L842.4 344.55Z"/><path d="M862.6 335.75L867.1 343.65L858.1 343.65Z"/><path d="M879.8 337.35L884.3 345.25L875.3 345.25Z"/></g>
<text x="807.95" y="326.5" font-size="14" font-weight="bold" text-anchor="middle" letter-spacing="0.58">COG-N-561h 5%<tspan dx="1.1">&#160;O</tspan><tspan font-size="10" dy="4.6" dx="0.3">2</tspan></text>
<rect x="887.8" y="309.8" width="154.4" height="152.2" fill="none" stroke="#717171" stroke-width="1.5"/>
<path d="M885.4 462H888.8M886.5 452.84H888.8M886.5 447.48H888.8M886.5 443.67H888.8M886.5 440.72H888.8M886.5 438.31H888.8M886.5 436.28H888.8M886.5 434.51H888.8M886.5 432.95H888.8M885.4 431.56H888.8M886.5 422.4H888.8M886.5 417.04H888.8M886.5 413.23H888.8M886.5 410.28H888.8M886.5 407.87H888.8M886.5 405.84H888.8M886.5 404.07H888.8M886.5 402.51H888.8M885.4 401.12H888.8M886.5 391.96H888.8M886.5 386.6H888.8M886.5 382.79H888.8M886.5 379.84H888.8M886.5 377.43H888.8M886.5 375.4H888.8M886.5 373.63H888.8M886.5 372.07H888.8M885.4 370.68H888.8M886.5 361.52H888.8M886.5 356.16H888.8M886.5 352.35H888.8M886.5 349.4H888.8M886.5 346.99H888.8M886.5 344.96H888.8M886.5 343.19H888.8M886.5 341.63H888.8M885.4 340.24H888.8M886.5 331.08H888.8M886.5 325.72H888.8M886.5 321.91H888.8M886.5 318.96H888.8M886.5 316.55H888.8M886.5 314.52H888.8M886.5 312.75H888.8M886.5 311.19H888.8" stroke="#000" stroke-width="1" fill="none"/>
<polyline points="887.8,340.35 905.1,339.85 920.8,341.05 938,341.05 953.7,341.05 970.9,341.45 986.6,339.85 1003.8,340.35 1019.5,340.35 1036.7,341.95" fill="none" stroke="#555" stroke-width="1.1"/>
<g fill="#000"><path d="M887.8 335.05L892.3 342.95L883.3 342.95Z"/><path d="M905.1 334.55L909.6 342.45L900.6 342.45Z"/><path d="M920.8 335.75L925.3 343.65L916.3 343.65Z"/><path d="M938 335.75L942.5 343.65L933.5 343.65Z"/><path d="M953.7 335.75L958.2 343.65L949.2 343.65Z"/><path d="M970.9 336.15L975.4 344.05L966.4 344.05Z"/><path d="M986.6 334.55L991.1 342.45L982.1 342.45Z"/><path d="M1003.8 335.05L1008.3 342.95L999.3 342.95Z"/><path d="M1019.5 335.05L1024 342.95L1015 342.95Z"/><path d="M1036.7 336.65L1041.2 344.55L1032.2 344.55Z"/></g>
<text x="965" y="326.5" font-size="14" font-weight="bold" text-anchor="middle" letter-spacing="0.58">COG-N-561h 20%<tspan dx="1.1">&#160;O</tspan><tspan font-size="10" dy="4.6" dx="0.3">2</tspan></text>
<rect x="573.7" y="462.2" width="154.6" height="151.8" fill="none" stroke="#717171" stroke-width="1.5"/>
<path d="M571.3 614H574.7M572.4 604.86H574.7M572.4 599.51H574.7M572.4 595.72H574.7M572.4 592.78H574.7M572.4 590.38H574.7M572.4 588.34H574.7M572.4 586.58H574.7M572.4 585.03H574.7M571.3 583.64H574.7M572.4 574.5H574.7M572.4 569.15H574.7M572.4 565.36H574.7M572.4 562.42H574.7M572.4 560.02H574.7M572.4 557.98H574.7M572.4 556.22H574.7M572.4 554.67H574.7M571.3 553.28H574.7M572.4 544.14H574.7M572.4 538.79H574.7M572.4 535H574.7M572.4 532.06H574.7M572.4 529.66H574.7M572.4 527.62H574.7M572.4 525.86H574.7M572.4 524.31H574.7M571.3 522.92H574.7M572.4 513.78H574.7M572.4 508.43H574.7M572.4 504.64H574.7M572.4 501.7H574.7M572.4 499.3H574.7M572.4 497.26H574.7M572.4 495.5H574.7M572.4 493.95H574.7M571.3 492.56H574.7M572.4 483.42H574.7M572.4 478.07H574.7M572.4 474.28H574.7M572.4 471.34H574.7M572.4 468.94H574.7M572.4 466.9H574.7M572.4 465.14H574.7M572.4 463.59H574.7" stroke="#000" stroke-width="1" fill="none"/>
<path d="M590.9 614V616.5M623.8 614V616.5M656.7 614V616.5M689.6 614V616.5M722.5 614V616.5" stroke="#333" stroke-width="0.9" fill="none"/>
<polyline points="573.7,492.65 590.9,492.65 606.6,493.05 623.8,492.65 639.5,492.65 656.7,492.65 672.4,492.65 689.6,492.35 705.3,494.35 722.5,504.85" fill="none" stroke="#555" stroke-width="1.1"/>
<g fill="#000"><path d="M573.7 487.35L578.2 495.25L569.2 495.25Z"/><path d="M590.9 487.35L595.4 495.25L586.4 495.25Z"/><path d="M606.6 487.75L611.1 495.65L602.1 495.65Z"/><path d="M623.8 487.35L628.3 495.25L619.3 495.25Z"/><path d="M639.5 487.35L644 495.25L635 495.25Z"/><path d="M656.7 487.35L661.2 495.25L652.2 495.25Z"/><path d="M672.4 487.35L676.9 495.25L667.9 495.25Z"/><path d="M689.6 487.05L694.1 494.95L685.1 494.95Z"/><path d="M705.3 489.05L709.8 496.95L700.8 496.95Z"/><path d="M722.5 499.55L727 507.45L718 507.45Z"/></g>
<text x="651" y="479" font-size="14" font-weight="bold" text-anchor="middle" letter-spacing="0.58">SK-N-BE (2) 2%<tspan dx="1.1">&#160;O</tspan><tspan font-size="10" dy="4.6" dx="0.3">2</tspan></text>
<rect x="730.6" y="462.2" width="154.7" height="151.8" fill="none" stroke="#717171" stroke-width="1.5"/>
<path d="M728.2 614H731.6M729.3 604.86H731.6M729.3 599.51H731.6M729.3 595.72H731.6M729.3 592.78H731.6M729.3 590.38H731.6M729.3 588.34H731.6M729.3 586.58H731.6M729.3 585.03H731.6M728.2 583.64H731.6M729.3 574.5H731.6M729.3 569.15H731.6M729.3 565.36H731.6M729.3 562.42H731.6M729.3 560.02H731.6M729.3 557.98H731.6M729.3 556.22H731.6M729.3 554.67H731.6M728.2 553.28H731.6M729.3 544.14H731.6M729.3 538.79H731.6M729.3 535H731.6M729.3 532.06H731.6M729.3 529.66H731.6M729.3 527.62H731.6M729.3 525.86H731.6M729.3 524.31H731.6M728.2 522.92H731.6M729.3 513.78H731.6M729.3 508.43H731.6M729.3 504.64H731.6M729.3 501.7H731.6M729.3 499.3H731.6M729.3 497.26H731.6M729.3 495.5H731.6M729.3 493.95H731.6M728.2 492.56H731.6M729.3 483.42H731.6M729.3 478.07H731.6M729.3 474.28H731.6M729.3 471.34H731.6M729.3 468.94H731.6M729.3 466.9H731.6M729.3 465.14H731.6M729.3 463.59H731.6" stroke="#000" stroke-width="1" fill="none"/>
<path d="M748.2 614V616.5M781.1 614V616.5M814 614V616.5M846.9 614V616.5M879.8 614V616.5" stroke="#333" stroke-width="0.9" fill="none"/>
<polyline points="730.6,493.05 748.2,493.95 763.9,493.05 781.1,493.45 796.8,493.05 814,493.05 829.7,493.45 846.9,492.65 862.6,495.55 879.8,505.65" fill="none" stroke="#555" stroke-width="1.1"/>
<g fill="#000"><path d="M730.6 487.75L735.1 495.65L726.1 495.65Z"/><path d="M748.2 488.65L752.7 496.55L743.7 496.55Z"/><path d="M763.9 487.75L768.4 495.65L759.4 495.65Z"/><path d="M781.1 488.15L785.6 496.05L776.6 496.05Z"/><path d="M796.8 487.75L801.3 495.65L792.3 495.65Z"/><path d="M814 487.75L818.5 495.65L809.5 495.65Z"/><path d="M829.7 488.15L834.2 496.05L825.2 496.05Z"/><path d="M846.9 487.35L851.4 495.25L842.4 495.25Z"/><path d="M862.6 490.25L867.1 498.15L858.1 498.15Z"/><path d="M879.8 500.35L884.3 508.25L875.3 508.25Z"/></g>
<text x="807.95" y="479" font-size="14" font-weight="bold" text-anchor="middle" letter-spacing="0.58">SK-N-BE (2) 5%<tspan dx="1.1">&#160;O</tspan><tspan font-size="10" dy="4.6" dx="0.3">2</tspan></text>
<rect x="887.8" y="462.2" width="154.4" height="151.8" fill="none" stroke="#717171" stroke-width="1.5"/>
<path d="M885.4 614H888.8M886.5 604.86H888.8M886.5 599.51H888.8M886.5 595.72H888.8M886.5 592.78H888.8M886.5 590.38H888.8M886.5 588.34H888.8M886.5 586.58H888.8M886.5 585.03H888.8M885.4 583.64H888.8M886.5 574.5H888.8M886.5 569.15H888.8M886.5 565.36H888.8M886.5 562.42H888.8M886.5 560.02H888.8M886.5 557.98H888.8M886.5 556.22H888.8M886.5 554.67H888.8M885.4 553.28H888.8M886.5 544.14H888.8M886.5 538.79H888.8M886.5 535H888.8M886.5 532.06H888.8M886.5 529.66H888.8M886.5 527.62H888.8M886.5 525.86H888.8M886.5 524.31H888.8M885.4 522.92H888.8M886.5 513.78H888.8M886.5 508.43H888.8M886.5 504.64H888.8M886.5 501.7H888.8M886.5 499.3H888.8M886.5 497.26H888.8M886.5 495.5H888.8M886.5 493.95H888.8M885.4 492.56H888.8M886.5 483.42H888.8M886.5 478.07H888.8M886.5 474.28H888.8M886.5 471.34H888.8M886.5 468.94H888.8M886.5 466.9H888.8M886.5 465.14H888.8M886.5 463.59H888.8" stroke="#000" stroke-width="1" fill="none"/>
<path d="M905.1 614V616.5M938 614V616.5M970.9 614V616.5M1003.8 614V616.5M1036.7 614V616.5" stroke="#333" stroke-width="0.9" fill="none"/>
<polyline points="887.8,493.05 905.1,492.35 920.8,492.65 938,493.05 953.7,492.35 970.9,492.65 986.6,492.65 1003.8,492.35 1019.5,494.35 1036.7,505.65" fill="none" stroke="#555" stroke-width="1.1"/>
<g fill="#000"><path d="M887.8 487.75L892.3 495.65L883.3 495.65Z"/><path d="M905.1 487.05L909.6 494.95L900.6 494.95Z"/><path d="M920.8 487.35L925.3 495.25L916.3 495.25Z"/><path d="M938 487.75L942.5 495.65L933.5 495.65Z"/><path d="M953.7 487.05L958.2 494.95L949.2 494.95Z"/><path d="M970.9 487.35L975.4 495.25L966.4 495.25Z"/><path d="M986.6 487.35L991.1 495.25L982.1 495.25Z"/><path d="M1003.8 487.05L1008.3 494.95L999.3 494.95Z"/><path d="M1019.5 489.05L1024 496.95L1015 496.95Z"/><path d="M1036.7 500.35L1041.2 508.25L1032.2 508.25Z"/></g>
<text x="965" y="479" font-size="14" font-weight="bold" text-anchor="middle" letter-spacing="0.58">SK-N-BE (2) 20%<tspan dx="1.1">&#160;O</tspan><tspan font-size="10" dy="4.6" dx="0.3">2</tspan></text>
<text x="540.8" y="40.3" font-size="14" font-weight="bold" text-anchor="start">10</text>
<text x="556.6" y="35.3" font-size="9.6" font-weight="bold" text-anchor="start">0</text>
<text x="540.8" y="70.8" font-size="14" font-weight="bold" text-anchor="start">10</text>
<text x="556.6" y="65.8" font-size="9.6" font-weight="bold" text-anchor="start">-1</text>
<text x="540.8" y="101.3" font-size="14" font-weight="bold" text-anchor="start">10</text>
<text x="556.6" y="96.3" font-size="9.6" font-weight="bold" text-anchor="start">-2</text>
<text x="540.8" y="131.8" font-size="14" font-weight="bold" text-anchor="start">10</text>
<text x="556.6" y="126.8" font-size="9.6" font-weight="bold" text-anchor="start">-3</text>
<text x="540.8" y="162.3" font-size="14" font-weight="bold" text-anchor="start">10</text>
<text x="556.6" y="157.3" font-size="9.6" font-weight="bold" text-anchor="start">-4</text>
<text x="540.8" y="192.7" font-size="14" font-weight="bold" text-anchor="start">10</text>
<text x="556.6" y="187.7" font-size="9.6" font-weight="bold" text-anchor="start">0</text>
<text x="540.8" y="223.1" font-size="14" font-weight="bold" text-anchor="start">10</text>
<text x="556.6" y="218.1" font-size="9.6" font-weight="bold" text-anchor="start">-1</text>
<text x="540.8" y="253.5" font-size="14" font-weight="bold" text-anchor="start">10</text>
<text x="556.6" y="248.5" font-size="9.6" font-weight="bold" text-anchor="start">-2</text>
<text x="540.8" y="283.9" font-size="14" font-weight="bold" text-anchor="start">10</text>
<text x="556.6" y="278.9" font-size="9.6" font-weight="bold" text-anchor="start">-3</text>
<text x="540.8" y="314.3" font-size="14" font-weight="bold" text-anchor="start">10</text>
<text x="556.6" y="309.3" font-size="9.6" font-weight="bold" text-anchor="start">-4</text>
<text x="540.8" y="345.04" font-size="14" font-weight="bold" text-anchor="start">10</text>
<text x="556.6" y="340.04" font-size="9.6" font-weight="bold" text-anchor="start">0</text>
<text x="540.8" y="375.48" font-size="14" font-weight="bold" text-anchor="start">10</text>
<text x="556.6" y="370.48" font-size="9.6" font-weight="bold" text-anchor="start">-1</text>
<text x="540.8" y="405.92" font-size="14" font-weight="bold" text-anchor="start">10</text>
<text x="556.6" y="400.92" font-size="9.6" font-weight="bold" text-anchor="start">-2</text>
<text x="540.8" y="436.36" font-size="14" font-weight="bold" text-anchor="start">10</text>
<text x="556.6" y="431.36" font-size="9.6" font-weight="bold" text-anchor="start">-3</text>
<text x="540.8" y="466.8" font-size="14" font-weight="bold" text-anchor="start">10</text>
<text x="556.6" y="461.8" font-size="9.6" font-weight="bold" text-anchor="start">-4</text>
<text x="540.8" y="497.36" font-size="14" font-weight="bold" text-anchor="start">10</text>
<text x="556.6" y="492.36" font-size="9.6" font-weight="bold" text-anchor="start">0</text>
<text x="540.8" y="527.72" font-size="14" font-weight="bold" text-anchor="start">10</text>
<text x="556.6" y="522.72" font-size="9.6" font-weight="bold" text-anchor="start">-1</text>
<text x="540.8" y="558.08" font-size="14" font-weight="bold" text-anchor="start">10</text>
<text x="556.6" y="553.08" font-size="9.6" font-weight="bold" text-anchor="start">-2</text>
<text x="540.8" y="588.44" font-size="14" font-weight="bold" text-anchor="start">10</text>
<text x="556.6" y="583.44" font-size="9.6" font-weight="bold" text-anchor="start">-3</text>
<text x="540.8" y="618.8" font-size="14" font-weight="bold" text-anchor="start">10</text>
<text x="556.6" y="613.8" font-size="9.6" font-weight="bold" text-anchor="start">-4</text>
<text x="578.75" y="636.9" font-size="14" font-weight="bold" text-anchor="start">10</text>
<text x="594.15" y="632.6" font-size="10" font-weight="bold" text-anchor="start">-8</text>
<text x="611.65" y="636.9" font-size="14" font-weight="bold" text-anchor="start">10</text>
<text x="627.05" y="632.6" font-size="10" font-weight="bold" text-anchor="start">-7</text>
<text x="644.55" y="636.9" font-size="14" font-weight="bold" text-anchor="start">10</text>
<text x="659.95" y="632.6" font-size="10" font-weight="bold" text-anchor="start">-6</text>
<text x="677.45" y="636.9" font-size="14" font-weight="bold" text-anchor="start">10</text>
<text x="692.85" y="632.6" font-size="10" font-weight="bold" text-anchor="start">-5</text>
<text x="710.36" y="636.9" font-size="14" font-weight="bold" text-anchor="start">10</text>
<text x="725.75" y="632.6" font-size="10" font-weight="bold" text-anchor="start">-4</text>
<text x="736.06" y="636.9" font-size="14" font-weight="bold" text-anchor="start">10</text>
<text x="751.46" y="632.6" font-size="10" font-weight="bold" text-anchor="start">-8</text>
<text x="768.96" y="636.9" font-size="14" font-weight="bold" text-anchor="start">10</text>
<text x="784.36" y="632.6" font-size="10" font-weight="bold" text-anchor="start">-7</text>
<text x="801.86" y="636.9" font-size="14" font-weight="bold" text-anchor="start">10</text>
<text x="817.25" y="632.6" font-size="10" font-weight="bold" text-anchor="start">-6</text>
<text x="834.76" y="636.9" font-size="14" font-weight="bold" text-anchor="start">10</text>
<text x="850.16" y="632.6" font-size="10" font-weight="bold" text-anchor="start">-5</text>
<text x="867.66" y="636.9" font-size="14" font-weight="bold" text-anchor="start">10</text>
<text x="883.06" y="632.6" font-size="10" font-weight="bold" text-anchor="start">-4</text>
<text x="892.96" y="636.9" font-size="14" font-weight="bold" text-anchor="start">10</text>
<text x="908.36" y="632.6" font-size="10" font-weight="bold" text-anchor="start">-8</text>
<text x="925.86" y="636.9" font-size="14" font-weight="bold" text-anchor="start">10</text>
<text x="941.25" y="632.6" font-size="10" font-weight="bold" text-anchor="start">-7</text>
<text x="958.75" y="636.9" font-size="14" font-weight="bold" text-anchor="start">10</text>
<text x="974.15" y="632.6" font-size="10" font-weight="bold" text-anchor="start">-6</text>
<text x="991.65" y="636.9" font-size="14" font-weight="bold" text-anchor="start">10</text>
<text x="1007.05" y="632.6" font-size="10" font-weight="bold" text-anchor="start">-5</text>
<text x="1024.56" y="636.9" font-size="14" font-weight="bold" text-anchor="start">10</text>
<text x="1039.96" y="632.6" font-size="10" font-weight="bold" text-anchor="start">-4</text>
<path d="M567.5 101.8H598.8" stroke="#555" stroke-width="1.1"/>
<g fill="#000"><path d="M582.5 96.5L587 104.4L578 104.4Z"/></g>
<text x="607.4" y="107.6" font-size="14" font-weight="bold" text-anchor="start" letter-spacing="0.2">DFMO (0-100 µM)</text>
<text x="0" y="0" font-size="22.1" font-weight="bold" text-anchor="start" transform="translate(537,400.1) rotate(-90)">Survival fraction</text>
<text x="701.1" y="658.4" font-size="19.6" font-weight="bold" text-anchor="start">Concentration</text>
<text x="840.9" y="658.4" font-size="19.6" font-weight="bold" text-anchor="start">(Molar)</text>
<text x="114" y="521.4" font-size="21.5" font-weight="bold" text-anchor="start">(C)</text>
<rect x="211.1" y="502.3" width="132.9" height="129.1" fill="none" stroke="#717171" stroke-width="1.5"/>
<path d="M208.7 631.4H212.1M209.8 621.68H212.1M209.8 616H212.1M209.8 611.97H212.1M209.8 608.84H212.1M209.8 606.29H212.1M209.8 604.12H212.1M209.8 602.25H212.1M209.8 600.6H212.1M208.7 599.12H212.1M209.8 589.41H212.1M209.8 583.73H212.1M209.8 579.69H212.1M209.8 576.57H212.1M209.8 574.01H212.1M209.8 571.85H212.1M209.8 569.98H212.1M209.8 568.33H212.1M208.7 566.85H212.1M209.8 557.13H212.1M209.8 551.45H212.1M209.8 547.42H212.1M209.8 544.29H212.1M209.8 541.74H212.1M209.8 539.57H212.1M209.8 537.7H212.1M209.8 536.05H212.1M208.7 534.58H212.1M209.8 524.86H212.1M209.8 519.18H212.1M209.8 515.14H212.1M209.8 512.02H212.1M209.8 509.46H212.1M209.8 507.3H212.1M209.8 505.43H212.1M209.8 503.78H212.1" stroke="#000" stroke-width="1" fill="none"/>
<path d="M226 631.4V633.9M254 631.4V633.9M282 631.4V633.9M310 631.4V633.9M337.8 631.4V633.9" stroke="#333" stroke-width="0.9" fill="none"/>
<text x="277.1" y="520.4" font-size="13" font-weight="bold" text-anchor="middle">SK-N-BE(2)</text>
<polyline points="211.1,533.5 225.8,533.1 239.25,533.1 254,533.1 267.45,533.1 282.2,533.1 295.65,533.1 310.4,533.1 323.85,540 338.6,547" fill="none" stroke="#222" stroke-width="1"/>
<polyline points="211.1,534.2 225.8,534.4 239.25,534.2 254,534.2 267.45,534.2 282.2,534.2 295.65,534.2 310.4,534.2 323.85,535.3 338.6,542.5" fill="none" stroke="#222" stroke-width="1"/>
<polyline points="211.1,534.5 225.8,534.8 239.25,534.5 254,534.5 267.45,534.8 282.2,534.5 295.65,534.5 310.4,534.8 323.85,535.5 338.6,542.5" fill="none" stroke="#222" stroke-width="1"/>
<g fill="#fff" stroke="#222" stroke-width="1"><circle cx="211.1" cy="533.5" r="3.8"/><circle cx="225.8" cy="533.1" r="3.8"/><circle cx="239.25" cy="533.1" r="3.8"/><circle cx="254" cy="533.1" r="3.8"/><circle cx="267.45" cy="533.1" r="3.8"/><circle cx="282.2" cy="533.1" r="3.8"/><circle cx="295.65" cy="533.1" r="3.8"/><circle cx="310.4" cy="533.1" r="3.8"/><circle cx="323.85" cy="540" r="3.8"/><circle cx="338.6" cy="547" r="3.8"/></g>
<g fill="#000"><path d="M211.1 529.6L215.1 536.8L207.1 536.8Z"/><path d="M225.8 529.8L229.8 537L221.8 537Z"/><path d="M239.25 529.6L243.25 536.8L235.25 536.8Z"/><path d="M254 529.6L258 536.8L250 536.8Z"/><path d="M267.45 529.6L271.45 536.8L263.45 536.8Z"/><path d="M282.2 529.6L286.2 536.8L278.2 536.8Z"/><path d="M295.65 529.6L299.65 536.8L291.65 536.8Z"/><path d="M310.4 529.6L314.4 536.8L306.4 536.8Z"/><path d="M323.85 530.7L327.85 537.9L319.85 537.9Z"/><path d="M338.6 537.9L342.6 545.1L334.6 545.1Z"/></g>
<g fill="#000"><rect x="207.9" y="531.3" width="6.4" height="6.4"/><rect x="222.6" y="531.6" width="6.4" height="6.4"/><rect x="236.05" y="531.3" width="6.4" height="6.4"/><rect x="250.8" y="531.3" width="6.4" height="6.4"/><rect x="264.25" y="531.6" width="6.4" height="6.4"/><rect x="279" y="531.3" width="6.4" height="6.4"/><rect x="292.45" y="531.3" width="6.4" height="6.4"/><rect x="307.2" y="531.6" width="6.4" height="6.4"/><rect x="320.65" y="532.3" width="6.4" height="6.4"/><rect x="335.4" y="539.3" width="6.4" height="6.4"/></g>
<text x="184" y="538.78" font-size="12" font-weight="bold" text-anchor="start">10</text>
<text x="197.2" y="534.08" font-size="8" font-weight="bold" text-anchor="start">0</text>
<text x="184" y="571.05" font-size="12" font-weight="bold" text-anchor="start">10</text>
<text x="197.2" y="566.35" font-size="8" font-weight="bold" text-anchor="start">-1</text>
<text x="184" y="603.33" font-size="12" font-weight="bold" text-anchor="start">10</text>
<text x="197.2" y="598.62" font-size="8" font-weight="bold" text-anchor="start">-2</text>
<text x="184" y="635.6" font-size="12" font-weight="bold" text-anchor="start">10</text>
<text x="197.2" y="630.9" font-size="8" font-weight="bold" text-anchor="start">-3</text>
<text x="215.55" y="651" font-size="12" font-weight="bold" text-anchor="start">10</text>
<text x="228.95" y="646.5" font-size="8" font-weight="bold" text-anchor="start">-8</text>
<text x="243.55" y="651" font-size="12" font-weight="bold" text-anchor="start">10</text>
<text x="256.95" y="646.5" font-size="8" font-weight="bold" text-anchor="start">-7</text>
<text x="271.55" y="651" font-size="12" font-weight="bold" text-anchor="start">10</text>
<text x="284.95" y="646.5" font-size="8" font-weight="bold" text-anchor="start">-6</text>
<text x="299.55" y="651" font-size="12" font-weight="bold" text-anchor="start">10</text>
<text x="312.95" y="646.5" font-size="8" font-weight="bold" text-anchor="start">-5</text>
<text x="327.35" y="651" font-size="12" font-weight="bold" text-anchor="start">10</text>
<text x="340.75" y="646.5" font-size="8" font-weight="bold" text-anchor="start">-4</text>
<text x="216.3" y="663.9" font-size="11.6" font-weight="bold" text-anchor="start">Concentration</text>
<text x="294.8" y="663.9" font-size="11.6" font-weight="bold" text-anchor="start">(Molar)</text>
<text x="0" y="0" font-size="12.65" font-weight="bold" text-anchor="start" transform="translate(170.4,628.0) rotate(-90)">Survival fraction</text>
<rect x="218.8" y="575.8" width="108.2" height="46" fill="#fff" stroke="#333" stroke-width="1"/>
<path d="M223.5 586.8H243.2" stroke="#222" stroke-width="1"/>
<g fill="#000"><path d="M233.5 582.8L237.5 590.2L229.5 590.2Z"/></g>
<text x="247.3" y="590.2" font-size="9.1" font-weight="normal" text-anchor="start">DFMO (20% FBS)</text>
<path d="M223.5 597.6H243.2" stroke="#222" stroke-width="1"/>
<circle cx="233.5" cy="597.6" r="3.8" fill="#fff" stroke="#222" stroke-width="1"/>
<text x="247.3" y="601" font-size="9.1" font-weight="normal" text-anchor="start">DFMO (10% FBS)</text>
<path d="M223.5 609.4H243.2" stroke="#222" stroke-width="1"/>
<rect x="230.3" y="606.2" width="6.4" height="6.4" fill="#000"/>
<text x="247.3" y="612.8" font-size="9.1" font-weight="normal" text-anchor="start">DFMO (5% FBS)</text>
</svg>
</body></html>
